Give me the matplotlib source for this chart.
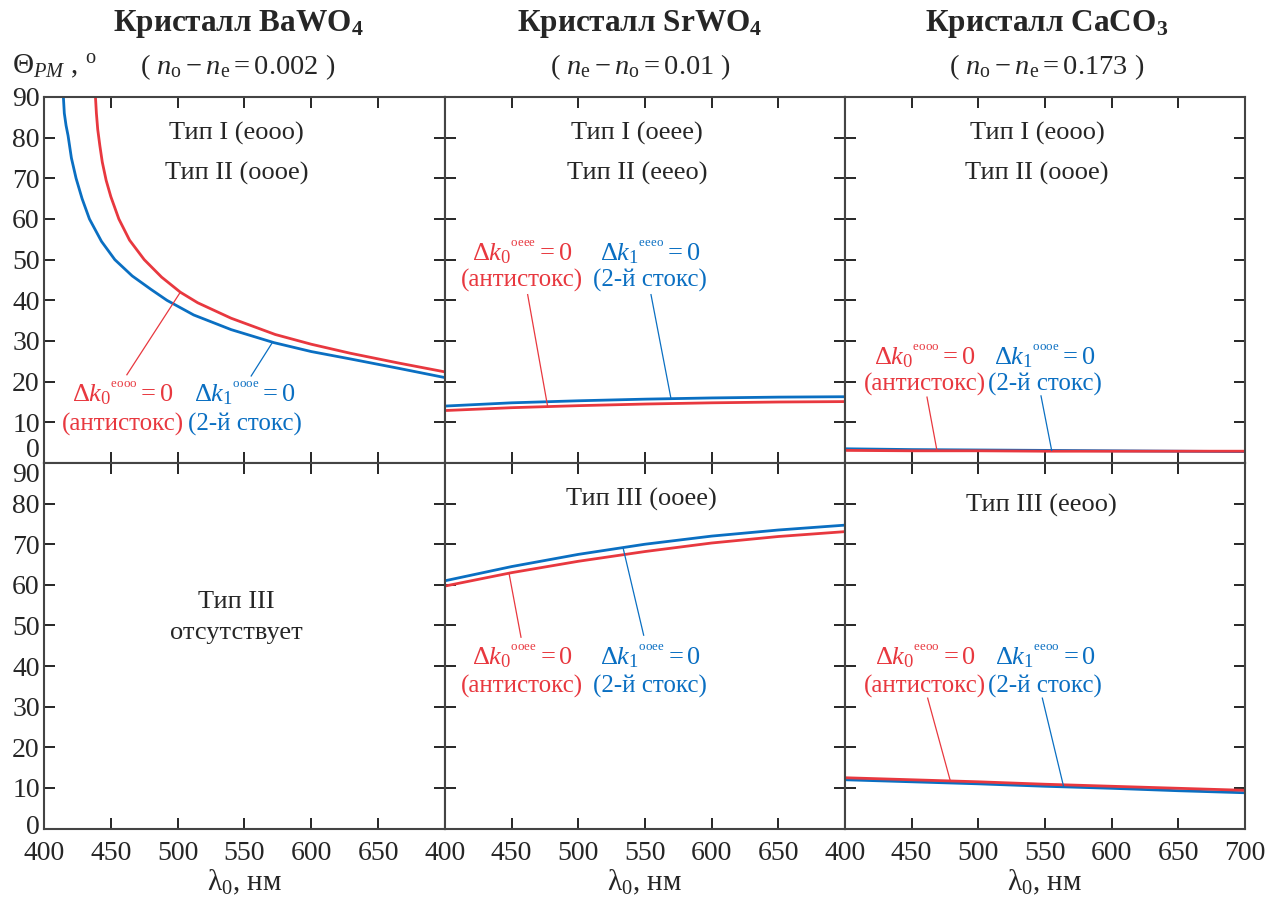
import numpy as np
import matplotlib.pyplot as plt
from matplotlib.transforms import ScaledTranslation

plt.rcParams['font.family'] = ['Liberation Serif', 'DejaVu Serif']
plt.rcParams['mathtext.fontset'] = 'custom'
plt.rcParams['mathtext.rm'] = 'Liberation Serif'
plt.rcParams['mathtext.it'] = 'Liberation Serif:italic'
plt.rcParams['mathtext.bf'] = 'Liberation Serif:bold'

RED = '#e8383f'
BLUE = '#0a6fc2'
INK = '#262626'

# ---- данные (длина волны, нм; угол, град) ----
# BaWO4, тип I / II
ba_red_wl = [438.5, 439.2, 440.2, 441.8, 443.6, 446.5, 450, 456, 464, 475, 488, 502, 515,
             540, 573, 600, 629, 665, 700]
ba_red_th = [90, 86, 82, 78, 74, 69.5, 65.5, 60, 54.8, 50, 45.7, 42, 39.4,
             35.6, 31.6, 29.2, 27.0, 24.6, 22.4]
ba_blue_wl = [414.5, 415.2, 416.5, 418, 420.5, 424, 428.5, 434, 443, 453, 466, 480, 492,
              512, 540, 572, 600, 629, 665, 700]
ba_blue_th = [90, 86, 83, 80.5, 75, 70, 65, 60, 54.5, 50, 46, 42.7, 40,
              36.4, 32.8, 29.6, 27.4, 25.6, 23.3, 21]

wl = [400, 450, 500, 550, 600, 650, 700]
# SrWO4, тип I / II
sr12_red = [12.9, 13.6, 14.1, 14.5, 14.8, 15.0, 15.1]
sr12_blue = [14.0, 14.8, 15.3, 15.7, 16.0, 16.2, 16.3]
# SrWO4, тип III
sr3_red = [59.7, 63.0, 65.8, 68.2, 70.3, 71.9, 73.1]
sr3_blue = [61.0, 64.5, 67.5, 70.0, 72.0, 73.5, 74.7]
# CaCO3, тип I / II
ca12_red = [3.1, 3.0, 3.0, 2.9, 2.9, 2.9, 2.9]
ca12_blue = [3.5, 3.3, 3.2, 3.1, 3.0, 2.9, 2.8]
# CaCO3, тип III
ca3_red = [12.5, 12.0, 11.5, 10.9, 10.4, 9.9, 9.4]
ca3_blue = [12.0, 11.5, 11.0, 10.4, 9.9, 9.3, 8.8]

titles = [r'Кристалл BaWO$_\mathbf{4}$', r'Кристалл SrWO$_\mathbf{4}$', r'Кристалл CaCO$_\mathbf{3}$']
subtitles = [r'( $n_{\mathrm{o}} - n_{\mathrm{e}} = 0.002$ )',
             r'( $n_{\mathrm{e}} - n_{\mathrm{o}} = 0.01$ )',
             r'( $n_{\mathrm{o}} - n_{\mathrm{e}} = 0.173$ )']
types_top = [('Тип I (eooo)', 'Тип II (oooe)'),
             ('Тип I (oeee)', 'Тип II (eeeo)'),
             ('Тип I (eooo)', 'Тип II (oooe)')]

W, H = 1269, 901
fig = plt.figure(figsize=(W / 100, H / 100), dpi=100)

xs = [44, 445, 845]
ws = [401, 400, 400]
rows = [(97, 463), (463, 828.5)]
axes = [[None] * 3 for _ in range(2)]
for r, (ytop, ybot) in enumerate(rows):
    for c in range(3):
        ax = fig.add_axes([xs[c] / W, 1 - ybot / H, ws[c] / W, (ybot - ytop) / H])
        ax.set_xlim(400, 700)
        ax.set_ylim(0, 90)
        ax.set_xticks([400, 450, 500, 550, 600, 650, 700])
        ax.set_yticks(range(0, 91, 10))
        ax.tick_params(direction='in', length=8, width=1.4, color=INK,
                       top=True, right=True, labelsize=20, labelcolor=INK)
        ax.tick_params(axis='x', pad=9)
        ax.tick_params(axis='y', pad=3)
        for s in ax.spines.values():
            s.set_color('#444444')
            s.set_linewidth(1.5)
        if c > 0:
            ax.set_yticklabels([])
        else:
            ax.set_yticklabels([str(v) for v in range(0, 91, 10)])
            ylabs = ax.get_yticklabels()
            if r == 0:
                ylabs[0].set_va('bottom')
            else:
                ylabs[-1].set_va('top')
                ylabs[0].set_transform(ylabs[0].get_transform() +
                                       ScaledTranslation(0, 3 / 72, fig.dpi_scale_trans))
        if r == 0:
            ax.set_xticklabels([])
        else:
            labs = ['400', '450', '500', '550', '600', '650', '700' if c == 2 else '']
            ax.set_xticklabels(labs)
            ax.set_xlabel('λ$_0$, нм', fontsize=21, color=INK, labelpad=1)
        axes[r][c] = ax

lw = 2.0
axes[0][0].plot(ba_blue_wl, ba_blue_th, color=BLUE, lw=lw)
axes[0][0].plot(ba_red_wl, ba_red_th, color=RED, lw=lw)
axes[0][1].plot(wl, sr12_blue, color=BLUE, lw=lw)
axes[0][1].plot(wl, sr12_red, color=RED, lw=lw)
axes[0][2].plot(wl, ca12_blue, color=BLUE, lw=lw)
axes[0][2].plot(wl, ca12_red, color=RED, lw=lw)
axes[1][1].plot(wl, sr3_blue, color=BLUE, lw=lw)
axes[1][1].plot(wl, sr3_red, color=RED, lw=lw)
axes[1][2].plot(wl, ca3_blue, color=BLUE, lw=lw)
axes[1][2].plot(wl, ca3_red, color=RED, lw=lw)

# заголовки
centers = [238, 640, 1047]
for c in range(3):
    fig.text(centers[c] / W, 1 - 24 / H, titles[c], ha='center', va='center',
             fontsize=22.5, fontweight='bold', color=INK)
    fig.text(centers[c] / W, 1 - 67 / H, subtitles[c], ha='center', va='center',
             fontsize=20.5, color=INK)
fig.text(12 / W, 1 - 67 / H, r'$\Theta_{\mathit{PM}}$ , $^{\mathrm{o}}$', ha='left',
         va='center', fontsize=21, color=INK)

# подписи типов
for c in range(3):
    ax = axes[0][c]
    ax.text(0.48, 0.9, types_top[c][0], transform=ax.transAxes, ha='center', va='center', fontsize=19, color=INK)
    ax.text(0.48, 0.79, types_top[c][1], transform=ax.transAxes, ha='center', va='center', fontsize=19, color=INK)
axes[1][0].text(0.48, 0.62, 'Тип III', transform=axes[1][0].transAxes, ha='center', va='center', fontsize=19, color=INK)
axes[1][0].text(0.48, 0.535, 'отсутствует', transform=axes[1][0].transAxes, ha='center', va='center', fontsize=19, color=INK)
axes[1][1].text(0.49, 0.9, 'Тип III (ooee)', transform=axes[1][1].transAxes, ha='center', va='center', fontsize=19, color=INK)
axes[1][2].text(0.49, 0.885, 'Тип III (eeoo)', transform=axes[1][2].transAxes, ha='center', va='center', fontsize=19, color=INK)


def label(ax, x, y1, y2, sup, idx, color, stokes):
    ax.text(x, y1, r'$\Delta k_%d{}^{{}^{\mathrm{%s}}} = 0$' % (idx, sup), ha='center', va='center',
            fontsize=19, color=color)
    ax.text(x, y2, stokes, ha='center', va='center', fontsize=18, color=color)


def leader(ax, x0, y0, wl_c, xs_c, ys_c, color):
    yc = np.interp(wl_c, xs_c, ys_c)
    ax.plot([x0, wl_c], [y0, yc], color=color, lw=0.9)


A = '(антистокс)'
S = '(2-й стокс)'
# BaWO4
ax = axes[0][0]
label(ax, 459, 16.9, 9.6, 'eooo', 0, RED, A)
label(ax, 550, 16.9, 9.6, 'oooe', 1, BLUE, S)
leader(ax, 462, 21.7, 502, ba_red_wl, ba_red_th, RED)
leader(ax, 555, 21.4, 571, ba_blue_wl, ba_blue_th, BLUE)
# SrWO4 I/II
ax = axes[0][1]
label(ax, 458, 51.7, 44.8, 'oeee', 0, RED, A)
label(ax, 554, 51.7, 44.8, 'eeeo', 1, BLUE, S)
leader(ax, 462, 41.4, 477, wl, sr12_red, RED)
leader(ax, 554.5, 41.4, 569.5, wl, sr12_blue, BLUE)
# CaCO3 I/II
ax = axes[0][2]
label(ax, 460, 26.1, 19.2, 'eooo', 0, RED, A)
label(ax, 550, 26.1, 19.2, 'oooe', 1, BLUE, S)
leader(ax, 461.5, 16.2, 469, wl, ca12_red, RED)
leader(ax, 547, 16.5, 555, wl, ca12_blue, BLUE)
# SrWO4 III
ax = axes[1][1]
label(ax, 458, 42.2, 35.1, 'ooee', 0, RED, A)
label(ax, 554, 42.2, 35.1, 'ooee', 1, BLUE, S)
leader(ax, 457, 47.1, 448, wl, sr3_red, RED)
leader(ax, 549, 47.6, 533.5, wl, sr3_blue, BLUE)
# CaCO3 III
ax = axes[1][2]
label(ax, 460, 42.2, 35.1, 'eeoo', 0, RED, A)
label(ax, 550, 42.2, 35.1, 'eeoo', 1, BLUE, S)
leader(ax, 462, 32.1, 479, wl, ca3_red, RED)
leader(ax, 548, 32.1, 564, wl, ca3_blue, BLUE)

fig.savefig('out.png', dpi=100)
